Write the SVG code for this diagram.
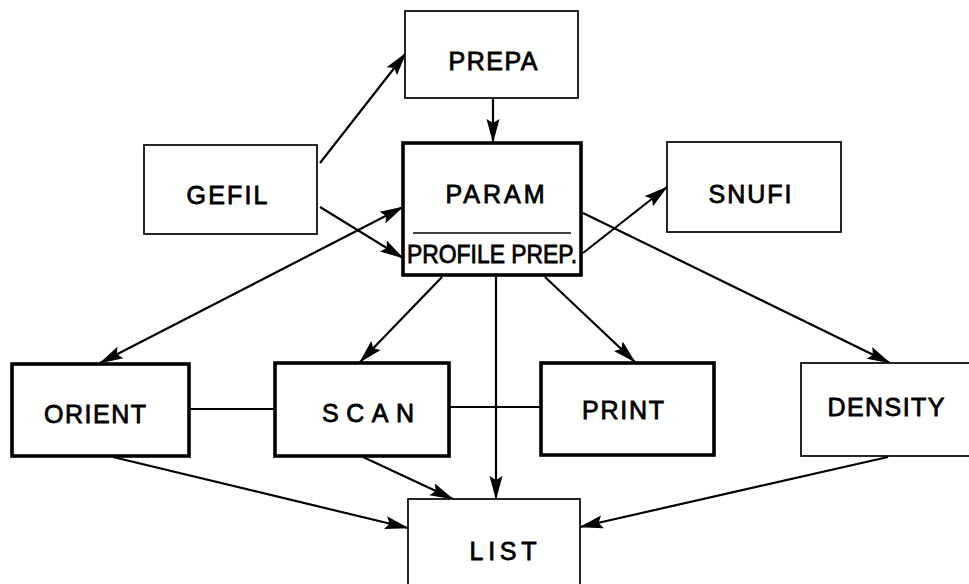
<svg xmlns="http://www.w3.org/2000/svg" width="969" height="584" viewBox="0 0 969 584">
<style>
.thin{fill:#fff;stroke:#000;stroke-width:1.7}
.thick{fill:#fff;stroke:#000;stroke-width:3.6}
.lbl{font-family:"Liberation Sans","DejaVu Sans",sans-serif;font-size:25px;fill:#000;stroke:#000;stroke-width:0.8;text-anchor:middle}
.con line{stroke:#000;stroke-width:2.2;fill:none}
.arr{marker-end:url(#ah)}
</style>
<defs>
<marker id="ah" markerUnits="userSpaceOnUse" markerWidth="24" markerHeight="14" refX="23" refY="7" orient="auto-start-reverse">
<path d="M0,0.5 L24,7 L0,13.5 L4,7 z" fill="#000"/>
</marker>
</defs>
<rect width="969" height="584" fill="#fff"/>
<g id="connectors" class="con">
<line class="arr" x1="320" y1="163" x2="406" y2="53"/>
<line class="arr" x1="493" y1="98" x2="493" y2="142"/>
<line class="arr" x1="320" y1="207" x2="403" y2="258"/>
<line x1="100" y1="363" x2="403" y2="207" marker-start="url(#ah)" marker-end="url(#ah)"/>
<line class="arr" x1="583" y1="253" x2="667" y2="187"/>
<line class="arr" x1="583" y1="213" x2="890" y2="363"/>
<line class="arr" x1="442" y1="277" x2="360" y2="362"/>
<line class="arr" x1="496" y1="277" x2="496" y2="499"/>
<line class="arr" x1="545" y1="277" x2="635" y2="362"/>
<line x1="189" y1="409" x2="275" y2="409"/>
<line x1="449" y1="407" x2="541" y2="407"/>
<line class="arr" x1="113" y1="457" x2="408" y2="528"/>
<line class="arr" x1="363" y1="457" x2="453" y2="499"/>
<line class="arr" x1="888" y1="457" x2="580" y2="527"/>
</g>
<g id="prepa"><rect class="thin" x="405" y="11" width="173" height="87"/><text class="lbl" x="493" y="70" textLength="89" lengthAdjust="spacing">PREPA</text></g>
<g id="gefil"><rect class="thin" x="144" y="145" width="173" height="89"/><text class="lbl" x="227" y="204" textLength="81" lengthAdjust="spacing">GEFIL</text></g>
<g id="param"><rect class="thick" x="403" y="143" width="178" height="132"/><line x1="413" y1="233" x2="571" y2="233" stroke="#000" stroke-width="1.7"/><text class="lbl" x="495" y="203" textLength="99" lengthAdjust="spacing">PARAM</text><text class="lbl" x="492" y="263" textLength="170" lengthAdjust="spacingAndGlyphs">PROFILE PREP.</text></g>
<g id="snufi"><rect class="thin" x="667" y="142" width="174" height="90"/><text class="lbl" x="750" y="203" textLength="83" lengthAdjust="spacing">SNUFI</text></g>
<g id="orient"><rect class="thick" x="12" y="364" width="177" height="92"/><text class="lbl" x="95" y="423" textLength="102" lengthAdjust="spacing">ORIENT</text></g>
<g id="scan"><rect class="thick" x="275" y="363" width="174" height="93"/><text class="lbl" x="368" y="422" textLength="92" lengthAdjust="spacing">SCAN</text></g>
<g id="print"><rect class="thick" x="541" y="363" width="173" height="92"/><text class="lbl" x="623" y="419" textLength="82" lengthAdjust="spacing">PRINT</text></g>
<g id="density"><rect class="thin" x="801" y="363" width="175" height="93"/><text class="lbl" x="886" y="416" textLength="117" lengthAdjust="spacing">DENSITY</text></g>
<g id="list"><rect class="thin" x="408" y="499" width="172" height="95"/><text class="lbl" x="503" y="560" textLength="67" lengthAdjust="spacing">LIST</text></g>
</svg>
